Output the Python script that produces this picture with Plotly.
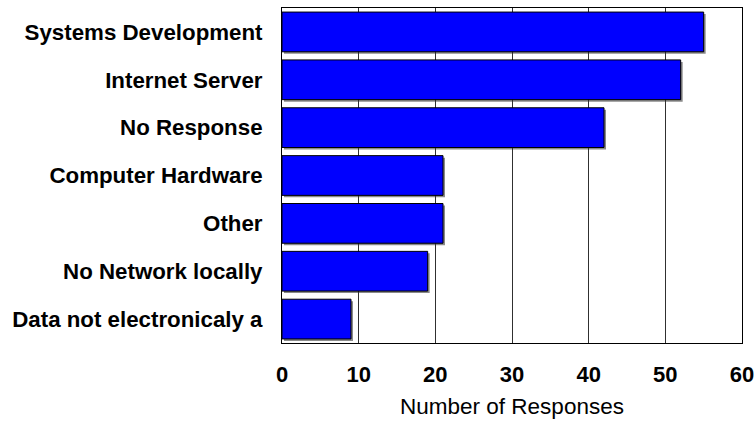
import plotly.graph_objects as go

# Response counts per category (top to bottom as displayed)
categories = [
    "Systems Development",
    "Internet Server",
    "No Response",
    "Computer Hardware",
    "Other",
    "No Network locally",
    "Data not electronicaly a",
]
responses = [55, 52, 42, 21, 21, 19, 9]
x_ticks = [0, 10, 20, 30, 40, 50, 60]

W, H = 756, 422
ML, MR, MT, MB = 282, 12, 8, 77
pw, ph = W - ML - MR, H - MT - MB
sx, sy = 2.0 / pw, 2.0 / ph  # drop-shadow offset in domain fractions

cats = categories[::-1]
vals = responses[::-1]

fig = go.Figure()

# Gray drop shadow on its own subplot, shifted right/down by a couple of pixels
fig.add_trace(go.Bar(
    x=vals, y=cats, orientation="h",
    marker=dict(color="#8a8a8a", line=dict(width=0)),
    xaxis="x", yaxis="y", hoverinfo="skip", showlegend=False,
))
# Main blue bars
fig.add_trace(go.Bar(
    x=vals, y=cats, orientation="h",
    marker=dict(color="#0000ff", line=dict(color="#000000", width=1)),
    xaxis="x2", yaxis="y2", showlegend=False,
))

font = "Liberation Sans, Arial, sans-serif"

fig.update_layout(
    width=W, height=H,
    margin=dict(l=ML, r=MR, t=MT, b=MB),
    paper_bgcolor="white", plot_bgcolor="rgba(0,0,0,0)",
    bargap=0.17,
    font=dict(family=font, color="black"),
    xaxis=dict(
        range=[0, 60], domain=[sx, 1], anchor="y",
        visible=False, showgrid=False, zeroline=False, automargin=False,
    ),
    yaxis=dict(
        domain=[0, 1 - sy], anchor="x", automargin=False,
        visible=False, showgrid=False, categoryorder="array", categoryarray=cats,
    ),
    xaxis2=dict(
        range=[0, 60], tickvals=x_ticks, domain=[0, 1 - sx], anchor="y2",
        showgrid=True, gridcolor="#303030", gridwidth=1,
        showline=True, linecolor="black", linewidth=1, mirror=True,
        ticks="", zeroline=False, automargin=False,
        tickfont=dict(size=22, family=font, weight="bold"),
        ticklabelstandoff=12,
        title=dict(text="Number of Responses", font=dict(size=22.5, family=font), standoff=11),
    ),
    yaxis2=dict(
        domain=[sy, 1], anchor="x2", automargin=False,
        showgrid=False, showline=True, linecolor="black", linewidth=1, mirror=True,
        ticks="", tickfont=dict(size=22.3, family=font, weight="bold"),
        ticklabelstandoff=14, categoryorder="array", categoryarray=cats,
    ),
)

fig.write_html("out.html")
